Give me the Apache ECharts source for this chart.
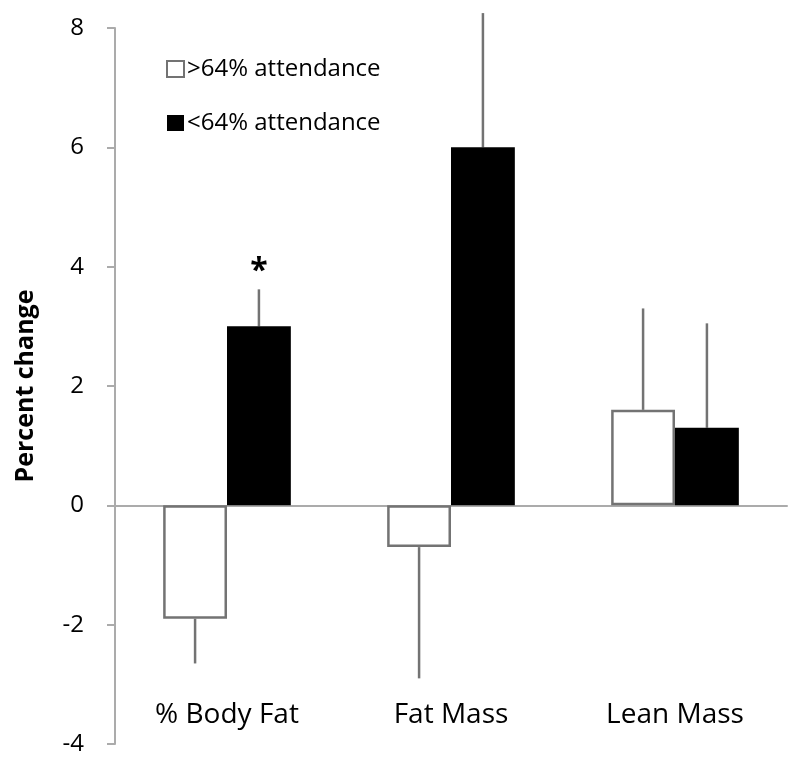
<!DOCTYPE html>
<html>
<head>
<meta charset="utf-8">
<script src="https://cdn.jsdelivr.net/npm/echarts@6/dist/echarts.min.js"></script>
<style>html,body{margin:0;padding:0;background:#fff}#c{width:800px;height:770px}</style>
</head>
<body>
<div id="c"></div>
<script>
var categories = ['% Body Fat', 'Fat Mass', 'Lean Mass'];
var seriesNames = ['>64% attendance', '<64% attendance'];
var highValues = [-1.9, -0.7, 1.6];
var highErrors = [0.75, 2.2, 1.7];
var lowValues = [3.0, 6.0, 1.3];
var lowErrors = [0.62, 2.25, 1.75];
var lowMarks = ['*', '', ''];
var yTicks = [-4, -2, 0, 2, 4, 6, 8];

var FONT = '"Open Sans", sans-serif';
var GREY = '#737373';
var AXIS = '#ababab';
var GAP = 0.43;

function errorSeries(values, errors, marks, side) {
  var data = values.map(function (v, i) { return [i, v, errors[i], marks ? marks[i] : '']; });
  return {
    type: 'custom',
    xAxisIndex: 0,
    clip: false,
    silent: true,
    z: 1,
    data: data,
    renderItem: function (params, api) {
      var idx = api.value(0);
      var v = api.value(1);
      var e = api.value(2);
      var end = v >= 0 ? v + e : v - e;
      var band = api.size([1, 0])[0];
      var off = side * band * (1 - GAP) / 4;
      var p0 = api.coord([idx, v]);
      var p1 = api.coord([idx, end]);
      var x = p0[0] + off;
      var children = [{
        type: 'line',
        shape: { x1: x, y1: p0[1], x2: x, y2: p1[1] },
        style: { stroke: GREY, lineWidth: 2.5 }
      }];
      var m = data[params.dataIndex][3];
      if (m) {
        children.push({
          type: 'text',
          style: {
            text: m, x: x, y: p1[1] - 17,
            fontSize: 32, fontWeight: 'bold', fontFamily: FONT,
            fill: '#000', align: 'center', verticalAlign: 'middle'
          }
        });
      }
      return { type: 'group', children: children };
    }
  };
}

var chart = echarts.init(document.getElementById('c'));
chart.setOption({
  animation: false,
  backgroundColor: '#fff',
  grid: { left: 115, right: 13, top: 28, bottom: 26 },
  legend: {
    orient: 'vertical',
    left: 161,
    top: 52,
    itemWidth: 17,
    itemHeight: 16,
    itemGap: 30,
    icon: 'rect',
    textStyle: { fontSize: 24, fontFamily: FONT, color: '#000', padding: [0, 0, 0, -2] },
    data: seriesNames
  },
  xAxis: [{
    type: 'category',
    data: categories,
    axisLine: { onZero: true, lineStyle: { color: AXIS, width: 2 } },
    axisTick: { show: false },
    axisLabel: { show: false }
  }, {
    type: 'category',
    data: categories,
    position: 'bottom',
    axisLine: { show: false, onZero: false },
    axisTick: { show: false },
    axisLabel: { margin: -43, fontSize: 28, fontFamily: FONT, color: '#000' }
  }],
  yAxis: {
    type: 'value',
    min: yTicks[0],
    max: yTicks[yTicks.length - 1],
    interval: 2,
    name: 'Percent change',
    nameLocation: 'middle',
    nameGap: 77,
    nameTextStyle: { fontSize: 25, fontWeight: 'bold', fontFamily: FONT, color: '#000' },
    axisLine: { show: true, lineStyle: { color: AXIS, width: 2 } },
    axisTick: { show: true, length: 8, lineStyle: { color: AXIS, width: 2 } },
    splitLine: { show: false },
    axisLabel: { margin: 31, fontSize: 24, fontFamily: FONT, color: '#000' }
  },
  series: [{
    name: seriesNames[0],
    type: 'bar',
    xAxisIndex: 0,
    data: highValues,
    barGap: '0%',
    barCategoryGap: (GAP * 100) + '%',
    z: 2,
    itemStyle: { color: '#fff', borderColor: GREY, borderWidth: 2.5 }
  }, {
    name: seriesNames[1],
    type: 'bar',
    xAxisIndex: 0,
    data: lowValues,
    barGap: '0%',
    barCategoryGap: (GAP * 100) + '%',
    z: 2,
    itemStyle: { color: '#000', borderColor: '#000', borderWidth: 0 }
  },
  errorSeries(highValues, highErrors, null, -1),
  errorSeries(lowValues, lowErrors, lowMarks, 1)
  ]
});
</script>
</body>
</html>
